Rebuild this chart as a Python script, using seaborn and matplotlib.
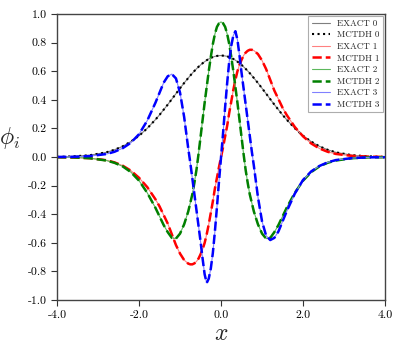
import matplotlib
matplotlib.use("Agg")
import matplotlib.pyplot as plt
import seaborn as sns
from matplotlib.ticker import FormatStrFormatter

# ==========================
# DATA
# ==========================

x = [-4.0, -3.6, -3.2, -2.8, -2.6, -2.4, -2.2, -2.0, -1.8, -1.6, -1.5,
     -1.4, -1.3, -1.2, -1.1, -1.0, -0.9, -0.8, -0.75, -0.7, -0.65, -0.6,
     -0.55, -0.5, -0.45, -0.4, -0.35, -0.3, -0.25, -0.2, -0.15, -0.1, -0.05,
     0.0,
     0.05, 0.1, 0.15, 0.2, 0.25, 0.3, 0.35, 0.4, 0.45, 0.5, 0.55, 0.6,
     0.65, 0.7, 0.75, 0.8, 0.9, 1.0, 1.1, 1.2, 1.3, 1.4, 1.5, 1.6, 1.8,
     2.0, 2.2, 2.4, 2.6, 2.8, 3.2, 3.6, 4.0]

phi_0 = [0.001, 0.005, 0.013, 0.033, 0.051, 0.075, 0.108, 0.149, 0.201, 0.262,
         0.295, 0.331, 0.367, 0.405, 0.443, 0.481, 0.518, 0.553, 0.570, 0.587,
         0.602, 0.617, 0.631, 0.644, 0.656, 0.667, 0.677, 0.686, 0.693, 0.699,
         0.704, 0.707, 0.709,
         0.710,
         0.709, 0.707, 0.704, 0.699, 0.693, 0.686, 0.677, 0.667, 0.656, 0.644,
         0.631, 0.617, 0.602, 0.587, 0.570, 0.553, 0.518, 0.481, 0.443, 0.405,
         0.367, 0.331, 0.295, 0.262, 0.201, 0.149, 0.108, 0.075, 0.051, 0.033,
         0.013, 0.005, 0.001]

phi_1 = [-0.001, -0.003, -0.008, -0.022, -0.037, -0.06, -0.095, -0.145, -0.21,
         -0.295, -0.345, -0.405, -0.465, -0.54, -0.615, -0.675, -0.72, -0.745,
         -0.75, -0.75, -0.743, -0.73, -0.71, -0.68, -0.645, -0.60, -0.54,
         -0.47, -0.39, -0.31, -0.22, -0.145, -0.07,
         0.0,
         0.07, 0.145, 0.22, 0.31, 0.39, 0.47, 0.54, 0.60, 0.645, 0.68, 0.71,
         0.73, 0.743, 0.75, 0.75, 0.745, 0.72, 0.675, 0.615, 0.54, 0.465,
         0.405, 0.345, 0.295, 0.21, 0.145, 0.095, 0.06, 0.037, 0.022, 0.008,
         0.003, 0.001]

phi_2 = [-0.001, -0.002, -0.008, -0.024, -0.04, -0.065, -0.105, -0.165, -0.25,
         -0.355, -0.415, -0.475, -0.525, -0.565, -0.57, -0.535, -0.47, -0.38,
         -0.32, -0.26, -0.18, -0.09, 0.02, 0.14, 0.26, 0.38, 0.49, 0.60, 0.70,
         0.79, 0.86, 0.91, 0.935,
         0.945,
         0.935, 0.91, 0.86, 0.79, 0.70, 0.60, 0.49, 0.38, 0.26, 0.14, 0.02,
         -0.09, -0.18, -0.26, -0.32, -0.38, -0.47, -0.535, -0.57, -0.565,
         -0.525, -0.475, -0.415, -0.355, -0.25, -0.165, -0.105, -0.065, -0.04,
         -0.024, -0.008, -0.002, -0.001]

phi_3 = [0.001, 0.002, 0.007, 0.021, 0.037, 0.062, 0.10, 0.16, 0.255, 0.38,
         0.45, 0.52, 0.565, 0.58, 0.55, 0.45, 0.28, 0.06, -0.04, -0.15, -0.26,
         -0.37, -0.48, -0.59, -0.71, -0.82, -0.88, -0.85, -0.78, -0.67, -0.52,
         -0.35, -0.17,
         0.0,
         0.17, 0.35, 0.52, 0.67, 0.78, 0.85, 0.88, 0.82, 0.71, 0.59, 0.48,
         0.37, 0.26, 0.15, 0.04, -0.06, -0.28, -0.45, -0.55, -0.58, -0.565,
         -0.52, -0.45, -0.38, -0.255, -0.16, -0.10, -0.062, -0.037, -0.021,
         -0.007, -0.002, -0.001]

# MCTDH results coincide with the exact ones at this scale
exact = [phi_0, phi_1, phi_2, phi_3]
mctdh = [phi_0, phi_1, phi_2, phi_3]

exact_colors = ["#7f7f7f", "#ff8080", "#5cb85c", "#8080ff"]
mctdh_colors = ["black", "red", "green", "blue"]
mctdh_styles = [":", "--", "--", "--"]
mctdh_widths = [1.5, 1.8, 1.8, 1.8]

# ==========================
# STYLE
# ==========================

sns.set_style("ticks")
plt.rcParams["font.family"] = "serif"
plt.rcParams["font.serif"] = ["cmr10", "DejaVu Serif"]
plt.rcParams["mathtext.fontset"] = "cm"
plt.rcParams["axes.unicode_minus"] = False
plt.rcParams["axes.formatter.use_mathtext"] = True

fig = plt.figure(figsize=(3.99, 3.51), dpi=100)
ax = fig.add_axes([0.143, 0.145, 0.822, 0.815])

# ==========================
# PLOT
# ==========================

for i in range(4):
    sns.lineplot(
        x=x, y=exact[i], ax=ax,
        color=exact_colors[i], linewidth=0.8,
        sort=False, estimator=None,
        label=f"EXACT {i}"
    )
    sns.lineplot(
        x=x, y=mctdh[i], ax=ax,
        color=mctdh_colors[i], linewidth=mctdh_widths[i],
        linestyle=mctdh_styles[i],
        sort=False, estimator=None,
        label=f"MCTDH {i}"
    )

ax.set_xlim(-4.0, 4.0)
ax.set_ylim(-1.0, 1.0)
ax.set_xticks([-4.0, -2.0, 0.0, 2.0, 4.0])
ax.set_yticks([-1.0, -0.8, -0.6, -0.4, -0.2, 0.0, 0.2, 0.4, 0.6, 0.8, 1.0])
ax.xaxis.set_major_formatter(FormatStrFormatter("%.1f"))
ax.yaxis.set_major_formatter(FormatStrFormatter("%.1f"))
ax.tick_params(labelsize=8.5, direction="out", length=4, width=0.8,
               colors="#333333", labelcolor="black")

for s in ax.spines.values():
    s.set_color("#444444")
    s.set_linewidth(1.0)

ax.set_xlabel("$x$", fontsize=17, labelpad=2)
ax.set_ylabel(r"$\phi_i$", fontsize=17, rotation=0, labelpad=14)
ax.yaxis.set_label_coords(-0.145, 0.52)

leg = ax.legend(
    loc="upper right", fontsize=6.5, frameon=True, fancybox=False,
    edgecolor="#999999", labelspacing=0.35, handlelength=2.0,
    borderaxespad=0.2, borderpad=0.4
)
leg.get_frame().set_linewidth(0.8)

plt.savefig("out.png", dpi=100)
